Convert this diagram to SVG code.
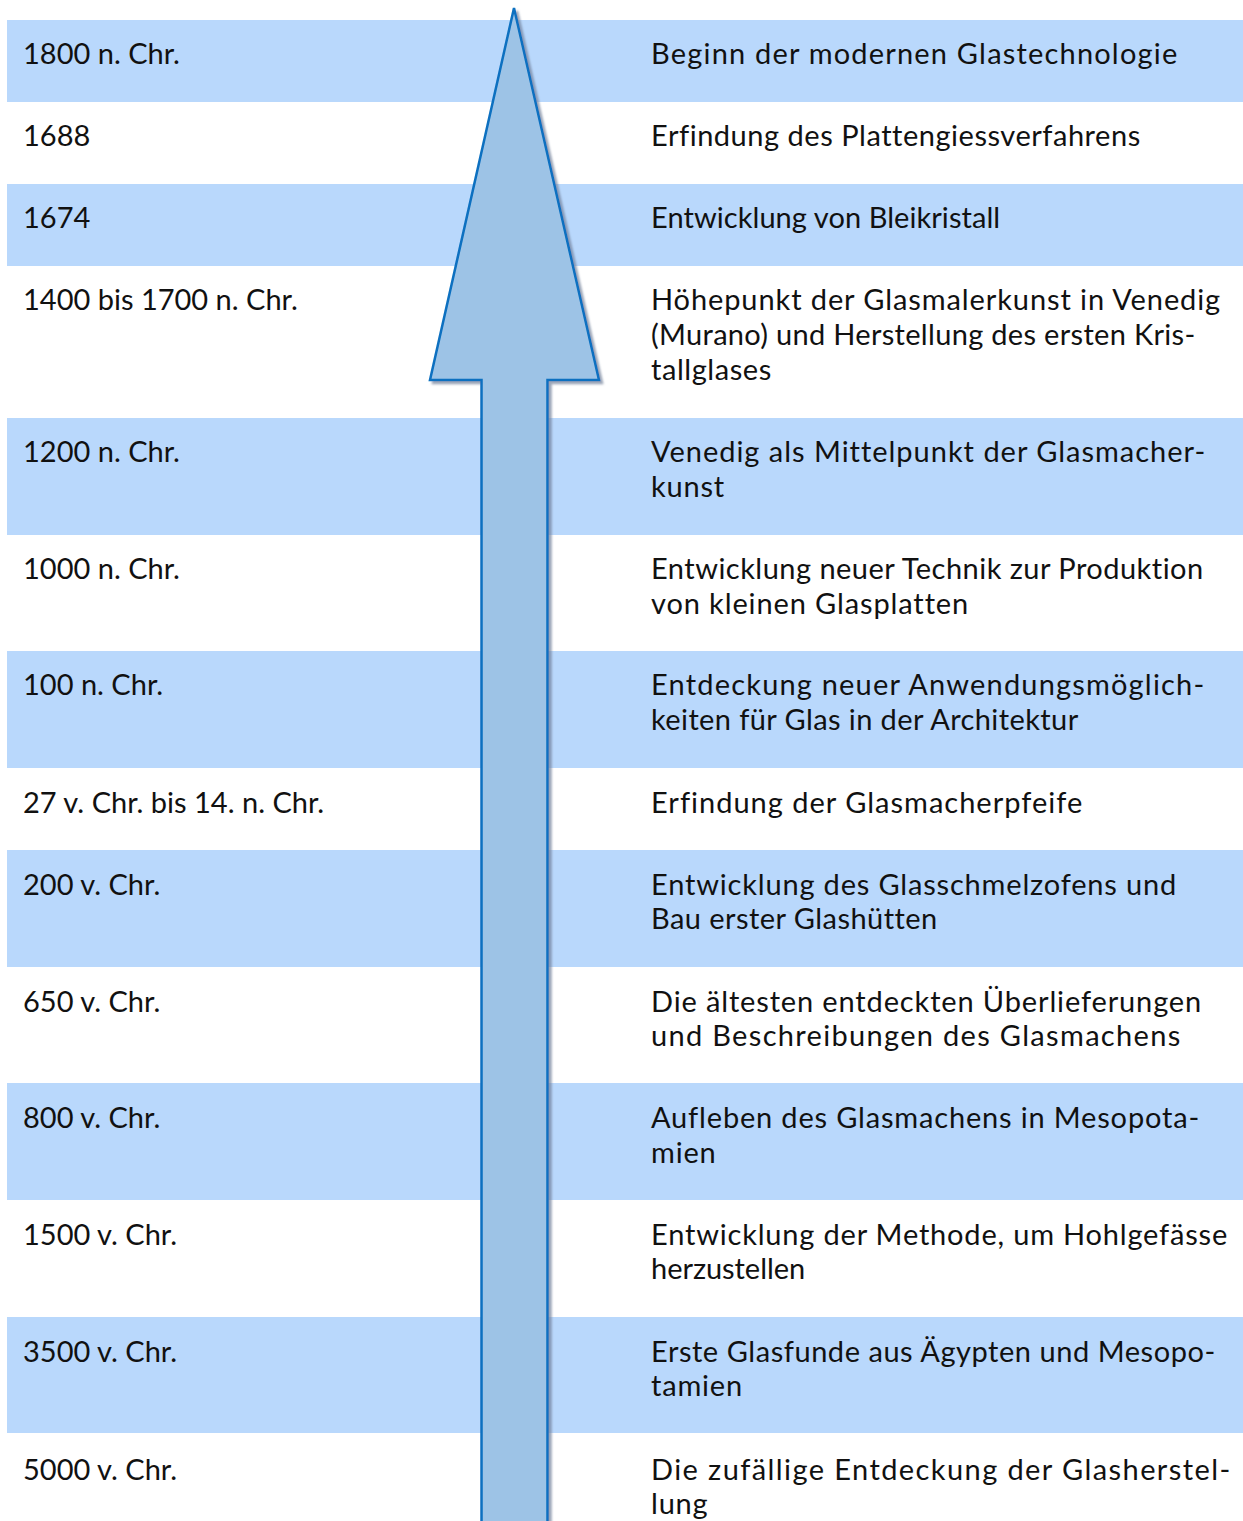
<svg xmlns="http://www.w3.org/2000/svg" width="1243" height="1521" viewBox="0 0 1243 1521">
<style>
.bg{fill:#b9d8fc}
.t{font-family:Lato,"Liberation Sans",sans-serif;font-size:29px;fill:#111111}
.r{letter-spacing:0.8px}
.arrow{fill:#9dc3e6;stroke:#0a6fc0;stroke-width:2.5;stroke-linejoin:miter}
</style>
<defs>
<filter id="sh" x="-20%" y="-5%" width="140%" height="110%">
<feDropShadow dx="3" dy="3" stdDeviation="1.2" flood-color="#6f7f99" flood-opacity="0.7"/>
</filter>
</defs>
<rect x="0" y="0" width="1243" height="1521" fill="#ffffff"/>
<g id="row1"><rect class="bg" x="7" y="20" width="1236" height="82"/><text class="t" x="23" y="64">1800 n. Chr.</text><text class="t r" x="651" y="64" textLength="527" lengthAdjust="spacing">Beginn der modernen Glastechnologie</text></g>
<g id="row2"><text class="t" x="23" y="146">1688</text><text class="t r" x="651" y="146" textLength="490" lengthAdjust="spacing">Erfindung des Plattengiessverfahrens</text></g>
<g id="row3"><rect class="bg" x="7" y="184" width="1236" height="82"/><text class="t" x="23" y="228">1674</text><text class="t r" x="651" y="228" textLength="350" lengthAdjust="spacing">Entwicklung von Bleikristall</text></g>
<g id="row4"><text class="t" x="23" y="310">1400 bis 1700 n. Chr.</text><text class="t r" x="651" y="310" textLength="570" lengthAdjust="spacing">Höhepunkt der Glasmalerkunst in Venedig</text><text class="t r" x="651" y="345" textLength="545" lengthAdjust="spacing">(Murano) und Herstellung des ersten Kris-</text><text class="t r" x="651" y="380" textLength="121" lengthAdjust="spacing">tallglases</text></g>
<g id="row5"><rect class="bg" x="7" y="418" width="1236" height="117"/><text class="t" x="23" y="462">1200 n. Chr.</text><text class="t r" x="651" y="462" textLength="555" lengthAdjust="spacing">Venedig als Mittelpunkt der Glasmacher-</text><text class="t r" x="651" y="497">kunst</text></g>
<g id="row6"><text class="t" x="23" y="579">1000 n. Chr.</text><text class="t r" x="651" y="579" textLength="553" lengthAdjust="spacing">Entwicklung neuer Technik zur Produktion</text><text class="t r" x="651" y="614" textLength="318" lengthAdjust="spacing">von kleinen Glasplatten</text></g>
<g id="row7"><rect class="bg" x="7" y="651" width="1236" height="117"/><text class="t" x="23" y="695">100 n. Chr.</text><text class="t r" x="651" y="695" textLength="554" lengthAdjust="spacing">Entdeckung neuer Anwendungsmöglich-</text><text class="t r" x="651" y="730" textLength="428" lengthAdjust="spacing">keiten für Glas in der Architektur</text></g>
<g id="row8"><text class="t" x="23" y="813">27 v. Chr. bis 14. n. Chr.</text><text class="t r" x="651" y="813" textLength="432" lengthAdjust="spacing">Erfindung der Glasmacherpfeife</text></g>
<g id="row9"><rect class="bg" x="7" y="850" width="1236" height="117"/><text class="t" x="23" y="895">200 v. Chr.</text><text class="t r" x="651" y="895" textLength="526" lengthAdjust="spacing">Entwicklung des Glasschmelzofens und</text><text class="t r" x="651" y="929" textLength="287" lengthAdjust="spacing">Bau erster Glashütten</text></g>
<g id="row10"><text class="t" x="23" y="1012">650 v. Chr.</text><text class="t r" x="651" y="1012" textLength="551" lengthAdjust="spacing">Die ältesten entdeckten Überlieferungen</text><text class="t r" x="651" y="1046" textLength="530" lengthAdjust="spacing">und Beschreibungen des Glasmachens</text></g>
<g id="row11"><rect class="bg" x="7" y="1083" width="1236" height="117"/><text class="t" x="23" y="1128">800 v. Chr.</text><text class="t r" x="651" y="1128" textLength="549" lengthAdjust="spacing">Aufleben des Glasmachens in Mesopota-</text><text class="t r" x="651" y="1163">mien</text></g>
<g id="row12"><text class="t" x="23" y="1245">1500 v. Chr.</text><text class="t r" x="651" y="1245" textLength="577" lengthAdjust="spacing">Entwicklung der Methode, um Hohlgefässe</text><text class="t r" x="651" y="1279" textLength="155" lengthAdjust="spacing">herzustellen</text></g>
<g id="row13"><rect class="bg" x="7" y="1317" width="1236" height="116"/><text class="t" x="23" y="1362">3500 v. Chr.</text><text class="t r" x="651" y="1362" textLength="565" lengthAdjust="spacing">Erste Glasfunde aus Ägypten und Mesopo-</text><text class="t r" x="651" y="1396">tamien</text></g>
<g id="row14"><text class="t" x="23" y="1480">5000 v. Chr.</text><text class="t r" x="651" y="1480" textLength="580" lengthAdjust="spacing">Die zufällige Entdeckung der Glasherstel-</text><text class="t r" x="651" y="1514">lung</text></g>
<g id="connectors">
<g id="timeline-arrow" filter="url(#sh)"><path class="arrow" d="M514,8 L599,380 L547.5,380 L547.5,1535 L481.5,1535 L481.5,380 L430,380 Z"/></g>
</g>
</svg>
